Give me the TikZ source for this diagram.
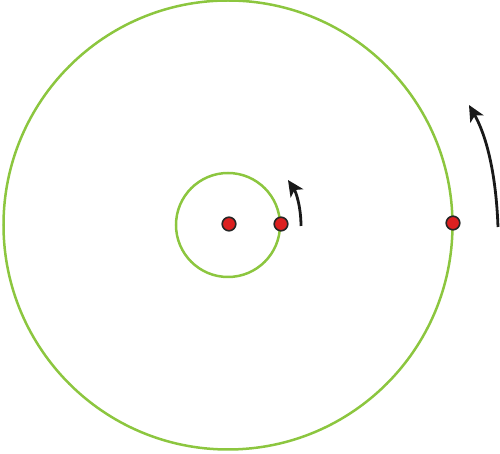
\documentclass[tikz,border=0pt]{standalone}
\usetikzlibrary{arrows.meta}
\definecolor{orbitgreen}{RGB}{140,198,63}
\definecolor{dotred}{RGB}{220,32,32}
\tikzset{
  orbit/.style={draw=orbitgreen, line width=1.25pt},
  body/.style={circle, fill=dotred, draw=black!85, line width=0.8pt, minimum size=6.8pt, inner sep=0pt},
  motion/.style={draw=black!90, line width=1.4pt, -{Stealth[length=8pt, width=7.5pt, inset=2pt]}}
}
\begin{document}
\begin{tikzpicture}[x=0.5pt, y=-0.5pt]
\useasboundingbox (0,0) rectangle (500,454);
\coordinate (c) at (228,225);
\draw[orbit] (c) circle[radius=224.5];
\draw[orbit] (c) circle[radius=52];
\node[body] (sun) at (229,224) {};
\node[body] (inner) at (281,224) {};
\node[body] (outer) at (453,223) {};
\coordinate (a1) at (301,226);
\coordinate (a2) at (288,180);
\coordinate (b1) at (498,227);
\coordinate (b2) at (469,105);
\draw[motion] (a1) .. controls (301,207) and (296,192) .. (a2);
\draw[motion] (b1) .. controls (496,172) and (486,135) .. (b2);
\end{tikzpicture}
\end{document}
